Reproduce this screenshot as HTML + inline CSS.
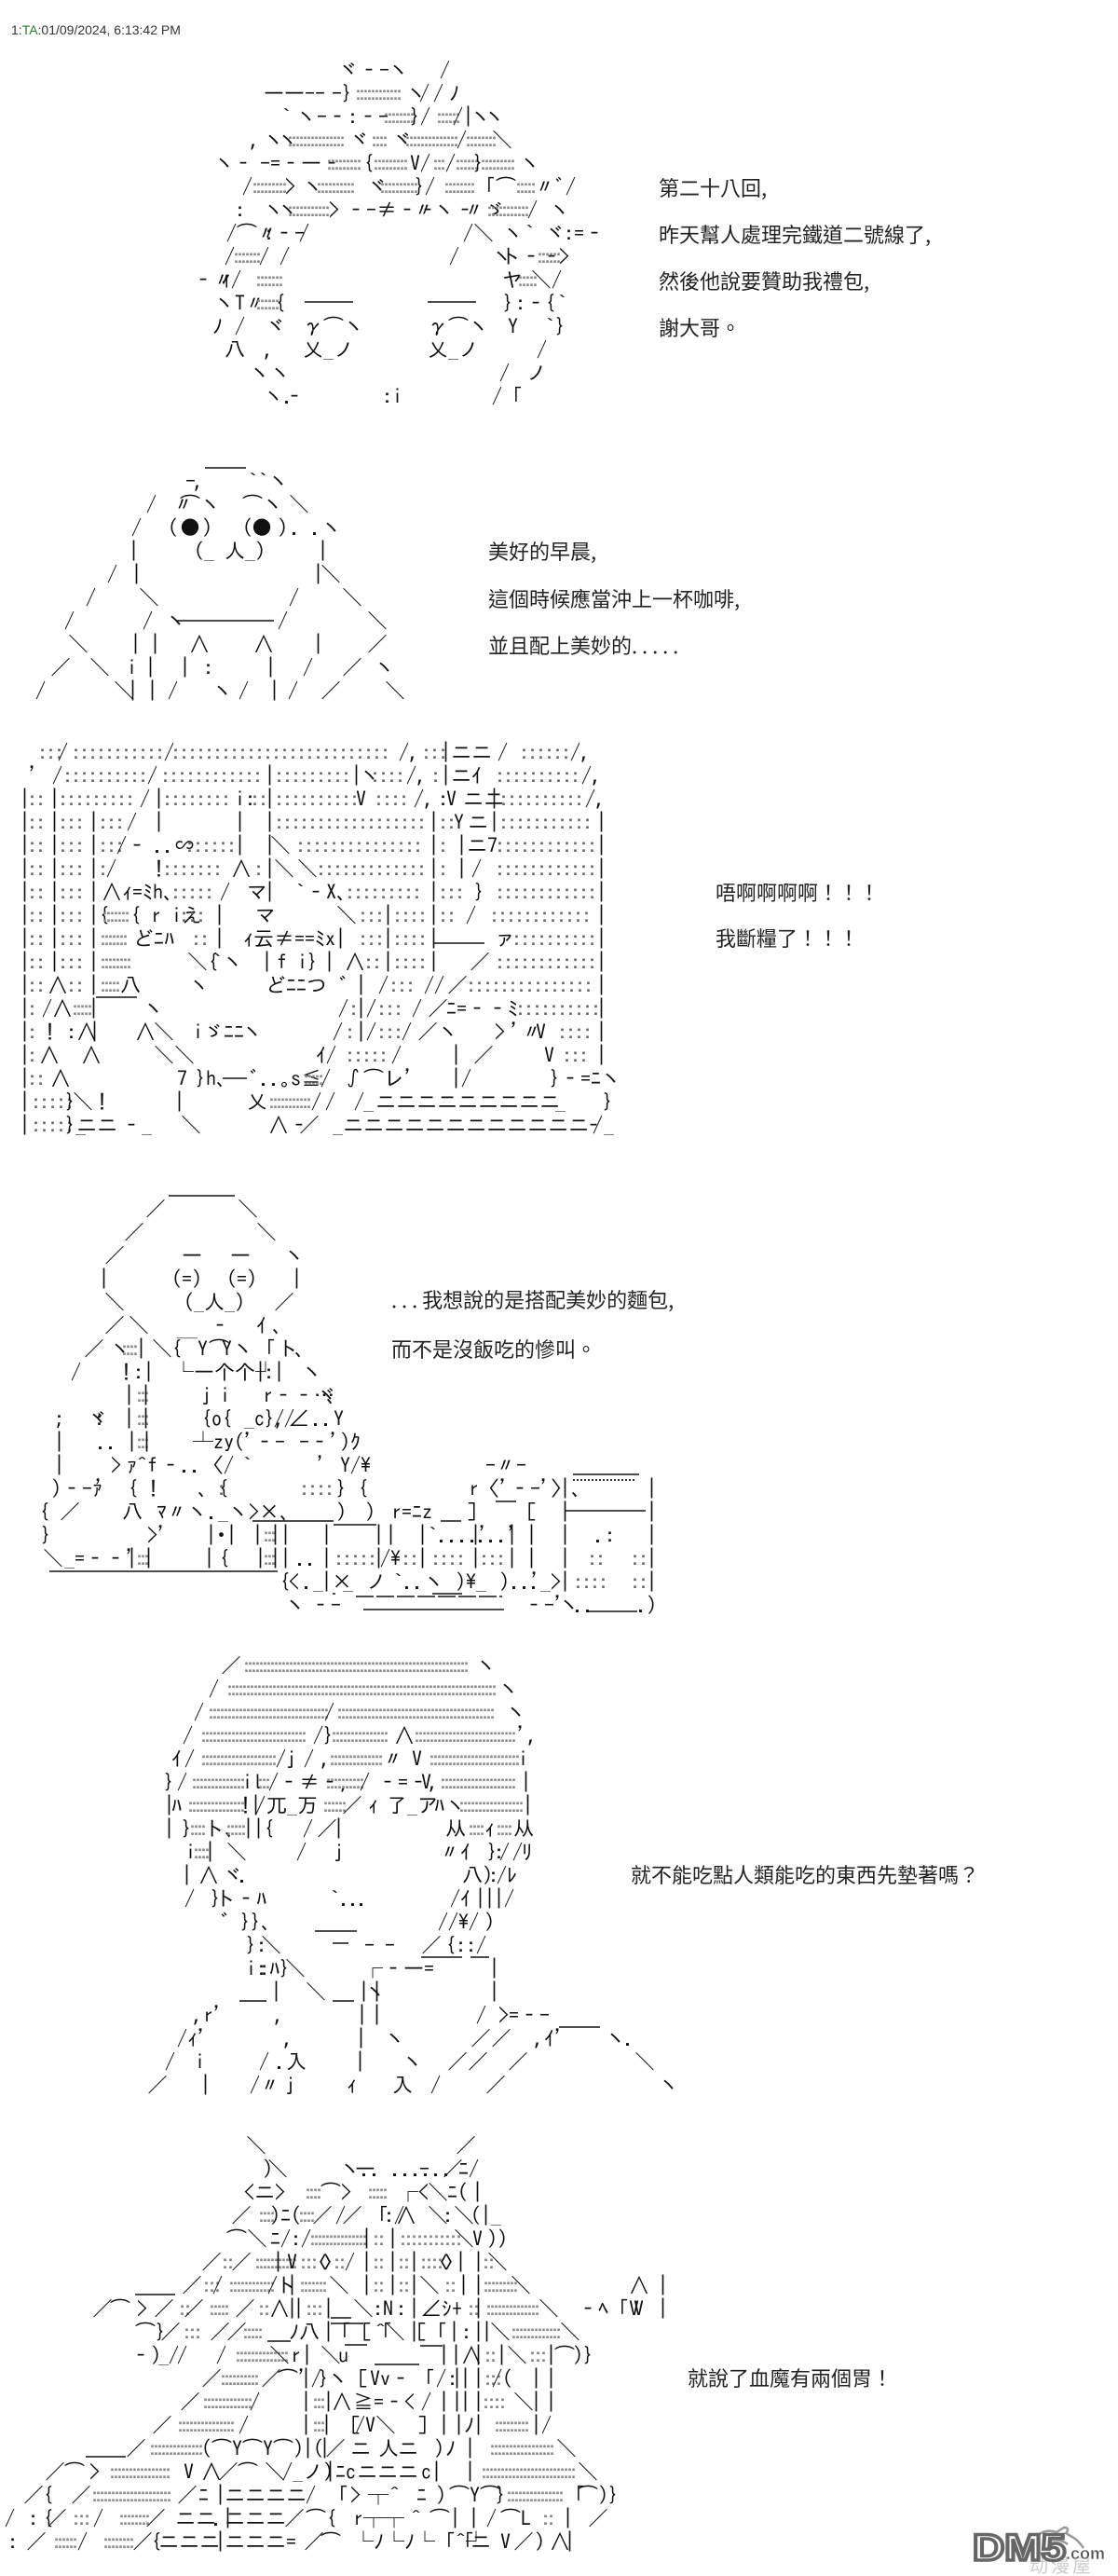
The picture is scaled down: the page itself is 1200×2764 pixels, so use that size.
<!DOCTYPE html>
<html><head><meta charset="utf-8"><style>
html,body{margin:0;padding:0;background:#fff}
svg{display:block}
text{font-family:"IPAGothic","Noto Sans CJK JP",sans-serif;font-size:22px;fill:#111;white-space:pre}
.a{letter-spacing:-7px;fill:#8a8a8a}
.b{letter-spacing:-5px;fill:#808080}
.c{letter-spacing:-2px;fill:#666}
.t{font-family:"WenQuanYi Zen Hei","Noto Sans CJK TC",sans-serif;fill:#222}
.h{font-family:"Liberation Sans",sans-serif;font-size:14px;fill:#333}
</style></head><body>
<svg width="1200" height="2764" viewBox="0 0 1200 2764" xmlns="http://www.w3.org/2000/svg">
<text class="h" x="12" y="37">1:<tspan fill="#2a7a2a">TA</tspan>:01/09/2024, 6:13:42 PM</text>

<!-- AA1 -->
<text y="83"><tspan x="363">ヾ‐-</tspan><tspan x="417">ヽ</tspan><tspan x="472">/</tspan></text>
<text y="108"><tspan x="283">――--</tspan><tspan x="356">-}</tspan><tspan x="379" class="a">::::::::::::</tspan><tspan x="436">ヽ</tspan><tspan x="450">/</tspan><tspan x="465">/</tspan><tspan x="482">ﾉ</tspan></text>
<text y="133"><tspan x="302">`</tspan><tspan x="318">ヽ-‐:‐-</tspan><tspan x="409" class="a">::::::::</tspan><tspan x="440">}/</tspan><tspan x="466" class="a">::::::</tspan><tspan x="486">/|</tspan><tspan x="505">ヽ</tspan><tspan x="520">ヽ</tspan></text>
<text y="158"><tspan x="268">,</tspan><tspan x="283">ヽ</tspan><tspan x="298">ヽ</tspan><tspan x="306" class="a">:::::::::::::::</tspan><tspan x="375">ヾ</tspan><tspan x="396" class="a">::::</tspan><tspan x="421">ヾ</tspan><tspan x="432" class="a">::::::::::::::</tspan><tspan x="490">/</tspan><tspan x="497" class="a">::::::::</tspan><tspan x="528">＼</tspan></text>
<text y="183"><tspan x="230">ヽ</tspan><tspan x="250">‐</tspan><tspan x="279">-=‐―‐</tspan><tspan x="348" class="a">:::::::::</tspan><tspan x="390">{</tspan><tspan x="398" class="a">:::::::::</tspan><tspan x="440">V/</tspan><tspan x="462" class="a">:::</tspan><tspan x="478">/</tspan><tspan x="486" class="a">::::::</tspan><tspan x="508">}</tspan><tspan x="513" class="a">:::::::::</tspan><tspan x="558">ヽ</tspan></text>
<text y="208"><tspan x="260">/</tspan><tspan x="268" class="a">:::::::::</tspan><tspan x="306">&gt;</tspan><tspan x="325">ヽ</tspan><tspan x="337" class="a">::::::::::</tspan><tspan x="394">ヾ</tspan><tspan x="405" class="a">::::::::::</tspan><tspan x="445">}/</tspan><tspan x="474" class="a">::::::::</tspan><tspan x="510">「⌒</tspan><tspan x="551" class="a">:::::</tspan><tspan x="574">〃ﾞ/</tspan></text>
<text y="233"><tspan x="252">:</tspan><tspan x="283">ヽ</tspan><tspan x="298">ヽ</tspan><tspan x="306" class="a">:::::::::::</tspan><tspan x="353">&gt;</tspan><tspan x="371">‐-≠‐‐</tspan><tspan x="444">〃ヽ‐</tspan><tspan x="498">〃ゞ</tspan><tspan x="520" class="a">:::::::::::</tspan><tspan x="566">/</tspan><tspan x="590">ヽ</tspan></text>
<text y="258"><tspan x="243">/⌒〃</tspan><tspan x="283">:‐-</tspan><tspan x="321">/</tspan><tspan x="497">/＼</tspan><tspan x="540">ヽ</tspan><tspan x="563">`</tspan><tspan x="585">ヾ</tspan><tspan x="605">:</tspan><tspan x="616">=‐</tspan></text>
<text y="283"><tspan x="241">/</tspan><tspan x="248" class="a">:::::::</tspan><tspan x="278">/</tspan><tspan x="300">/</tspan><tspan x="482">/</tspan><tspan x="528">ヽ</tspan><tspan x="537">ト‐‐</tspan><tspan x="574" class="a">::::::</tspan><tspan x="600">&gt;</tspan></text>
<text y="308"><tspan x="207">‐〃</tspan><tspan x="237">ｨ/</tspan><tspan x="272" class="a">:::::::</tspan><tspan x="539">ヤ</tspan><tspan x="553" class="a">:::::</tspan><tspan x="570">＼/</tspan></text>
<text y="333"><tspan x="230">ヽT〃</tspan><tspan x="272" class="a">::::::</tspan><tspan x="295">{</tspan><tspan x="540">}</tspan><tspan x="553">:‐</tspan><tspan x="585">{</tspan><tspan x="598">`</tspan></text>
<text y="358"><tspan x="228">ﾉ</tspan><tspan x="252">/</tspan><tspan x="285">ヾ</tspan><tspan x="325">γ⌒ヽ</tspan><tspan x="459">γ⌒ヽ</tspan><tspan x="545">Y</tspan><tspan x="585">`}</tspan></text>
<text y="383"><tspan x="241">八</tspan><tspan x="283">,</tspan><tspan x="325">乂_ノ</tspan><tspan x="459">乂_ノ</tspan><tspan x="576">/</tspan></text>
<text y="408"><tspan x="268">ヽ</tspan><tspan x="290">ヽ</tspan><tspan x="536">/</tspan><tspan x="565">ノ</tspan></text>
<text y="433"><tspan x="283">ヽ‐</tspan><tspan x="304">.</tspan><tspan x="410">:i</tspan><tspan x="528">/「</tspan></text>
<path d="M327 324h52M459 324h52" stroke="#111" stroke-width="1.5"/>
<text class="t" x="707" y="210">第二十八回,</text>
<text class="t" x="707" y="260">昨天幫人處理完鐵道二號線了,</text>
<text class="t" x="707" y="310">然後他說要贊助我禮包,</text>
<text class="t" x="707" y="360">謝大哥。</text>

<!-- AA2 -->
<text y="524"><tspan x="199">-</tspan><tspan x="208">,</tspan><tspan x="266">``</tspan><tspan x="288">ヽ</tspan></text>
<text y="549"><tspan x="157">/</tspan><tspan x="186">〃</tspan><tspan x="193">⌒ヽ</tspan><tspan x="260">⌒ヽ</tspan><tspan x="310">＼</tspan></text>
<text y="574"><tspan x="141">/</tspan><tspan x="180">(</tspan><tspan x="193">●</tspan><tspan x="217">)</tspan><tspan x="260">(</tspan><tspan x="270">●</tspan><tspan x="298">)</tspan><tspan x="312">. .ヽ</tspan></text>
<text y="599"><tspan x="138">|</tspan><tspan x="208">(_ 人_)</tspan><tspan x="341">|</tspan></text>
<text y="624"><tspan x="115">/</tspan><tspan x="141">|</tspan><tspan x="336">|</tspan><tspan x="344">＼</tspan></text>
<text y="649"><tspan x="92">/</tspan><tspan x="149">＼</tspan><tspan x="310">/</tspan><tspan x="367">＼</tspan></text>
<text y="674"><tspan x="69">/</tspan><tspan x="153">/</tspan><tspan x="178">ヽ</tspan><tspan x="298">/</tspan><tspan x="394">＼</tspan></text>
<text y="699"><tspan x="73">＼</tspan><tspan x="140">|</tspan><tspan x="161">|</tspan><tspan x="203">∧</tspan><tspan x="272">∧</tspan><tspan x="336">|</tspan><tspan x="394">／</tspan></text>
<text y="724"><tspan x="54">／</tspan><tspan x="96">＼</tspan><tspan x="136">i</tspan><tspan x="156">|</tspan><tspan x="193">|</tspan><tspan x="218">:</tspan><tspan x="285">|</tspan><tspan x="325">/</tspan><tspan x="367">／</tspan><tspan x="402">ヽ</tspan></text>
<text y="749"><tspan x="38">/</tspan><tspan x="122">＼</tspan><tspan x="137">|</tspan><tspan x="158">|</tspan><tspan x="180">/</tspan><tspan x="228">ヽ</tspan><tspan x="256">/</tspan><tspan x="289">|</tspan><tspan x="309">/</tspan><tspan x="344">／</tspan><tspan x="413">＼</tspan></text>
<path d="M220 502h44M190 666h104" stroke="#111" stroke-width="1.6"/>
<text class="t" x="524" y="600">美好的早晨,</text>
<text class="t" x="524" y="651">這個時候應當沖上一杯咖啡,</text>
<text class="t" x="524" y="701">並且配上美妙的. . . . .</text>

<!-- AA3 -->
<text y="815"><tspan x="40" class="c">:::</tspan><tspan x="62">/</tspan><tspan x="76" class="c">:::::::::::</tspan><tspan x="176">/</tspan><tspan x="183" class="c">::::::::::::::::::::::::::</tspan><tspan x="428">/,</tspan><tspan x="452" class="c">:::</tspan><tspan x="473">|</tspan><tspan x="484">ニニ</tspan><tspan x="534" >/</tspan><tspan x="557" class="c">::::::</tspan><tspan x="612">/,</tspan></text>
<text y="840"><tspan x="31">'</tspan><tspan x="56">/</tspan><tspan x="67" class="c">::::::::::</tspan><tspan x="158">/</tspan><tspan x="172" class="c">::::::::::::</tspan><tspan x="284">|</tspan><tspan x="294" class="c">:::::::::</tspan><tspan x="377">|</tspan><tspan x="386">ヽ</tspan><tspan x="397" class="c">::::</tspan><tspan x="436">/,</tspan><tspan x="462" class="c">:</tspan><tspan x="473">|</tspan><tspan x="484">ニｲ</tspan><tspan x="531" class="c">::::::::::</tspan><tspan x="624">/,</tspan></text>
<text y="865"><tspan x="21">|</tspan><tspan x="29" class="c">::</tspan><tspan x="53">|</tspan><tspan x="62" class="c">:::::::::</tspan><tspan x="150">/</tspan><tspan x="165">|</tspan><tspan x="174" class="c">::::::::</tspan><tspan x="252">i:</tspan><tspan x="268" class="c">::</tspan><tspan x="284">|</tspan><tspan x="294" class="c">::::::::::</tspan><tspan x="382">V</tspan><tspan x="401" class="c">::::</tspan><tspan x="444">/,</tspan><tspan x="470">:</tspan><tspan x="479">V</tspan><tspan x="497">ニニ</tspan><tspan x="525">|</tspan><tspan x="535" class="c">::::::::::</tspan><tspan x="628">/,</tspan></text>
<text y="890"><tspan x="21">|</tspan><tspan x="29" class="c">::</tspan><tspan x="53">|</tspan><tspan x="62" class="c">:::</tspan><tspan x="95">|</tspan><tspan x="105" class="c">:::</tspan><tspan x="136">/</tspan><tspan x="165">|</tspan><tspan x="252">|</tspan><tspan x="284">|</tspan><tspan x="294" class="c">::::::::::::::::::</tspan><tspan x="460">|</tspan><tspan x="470" class="c">::</tspan><tspan x="487">Y</tspan><tspan x="502">ニ</tspan><tspan x="525">|</tspan><tspan x="535" class="c">:::::::::::</tspan><tspan x="640">|</tspan></text>
<text y="915"><tspan x="21">|</tspan><tspan x="29" class="c">::</tspan><tspan x="53">|</tspan><tspan x="62" class="c">:::</tspan><tspan x="95">|</tspan><tspan x="105" class="c">:::</tspan><tspan x="125">/‐</tspan><tspan x="165">..∽</tspan><tspan x="198" class="c">::::::</tspan><tspan x="252">|</tspan><tspan x="284">|</tspan><tspan x="290">＼</tspan><tspan x="317" class="c">:::::::::::::::</tspan><tspan x="460">|</tspan><tspan x="470" class="c">:</tspan><tspan x="490">|ニ7</tspan><tspan x="531" class="c">::::::::::::</tspan><tspan x="640">|</tspan></text>
<text y="940"><tspan x="21">|</tspan><tspan x="29" class="c">::</tspan><tspan x="53">|</tspan><tspan x="62" class="c">:::</tspan><tspan x="95">|</tspan><tspan x="105" class="c">:</tspan><tspan x="114">/</tspan><tspan x="165">!</tspan><tspan x="174" class="c">:::::::</tspan><tspan x="248">∧</tspan><tspan x="272" class="c">:</tspan><tspan x="284">|</tspan><tspan x="294">＼</tspan><tspan x="319">＼</tspan><tspan x="339" class="c">:::::::::::::</tspan><tspan x="460">|</tspan><tspan x="470" class="c">:</tspan><tspan x="490">|</tspan><tspan x="506">/</tspan><tspan x="531" class="c">::::::::::::</tspan><tspan x="640">|</tspan></text>
<text y="965"><tspan x="21">|</tspan><tspan x="29" class="c">::</tspan><tspan x="53">|</tspan><tspan x="62" class="c">:::</tspan><tspan x="95">|</tspan><tspan x="109">∧ｨ=ﾐh、</tspan><tspan x="183" class="c">:::::</tspan><tspan x="236">/</tspan><tspan x="265">マ</tspan><tspan x="284">|</tspan><tspan x="317">`‐X、</tspan><tspan x="370" class="c">:::::::::</tspan><tspan x="460">|</tspan><tspan x="470" class="c">:::</tspan><tspan x="509">}</tspan><tspan x="531" class="c">::::::::::::</tspan><tspan x="640">|</tspan></text>
<text y="990"><tspan x="21">|</tspan><tspan x="29" class="c">::</tspan><tspan x="53">|</tspan><tspan x="62" class="c">:::</tspan><tspan x="95">|{</tspan><tspan x="107" class="a">:::::::</tspan><tspan x="140">{ r iえ</tspan><tspan x="192" class="c">:::</tspan><tspan x="230">|</tspan><tspan x="274">マ</tspan><tspan x="361">＼</tspan><tspan x="384" class="c">:::</tspan><tspan x="411">|</tspan><tspan x="421" class="c">::::</tspan><tspan x="460">|</tspan><tspan x="470" class="c">::</tspan><tspan x="500">/</tspan><tspan x="525" class="c">::::::::::::</tspan><tspan x="640">|</tspan></text>
<text y="1015"><tspan x="21">|</tspan><tspan x="29" class="c">::</tspan><tspan x="53">|</tspan><tspan x="62" class="c">:::</tspan><tspan x="95">|</tspan><tspan x="105" class="a">:::::::</tspan><tspan x="143">どﾆﾊ</tspan><tspan x="205" class="c">::</tspan><tspan x="230">|</tspan><tspan x="261">ｨ云≠==ﾐx|</tspan><tspan x="384" class="c">:::</tspan><tspan x="411">|</tspan><tspan x="421" class="c">::::</tspan><tspan x="460">|</tspan><tspan x="531">ァ</tspan><tspan x="549" class="c">::::::::::</tspan><tspan x="640">|</tspan></text>
<text y="1040"><tspan x="21">|</tspan><tspan x="29" class="c">::</tspan><tspan x="53">|</tspan><tspan x="62" class="c">:::</tspan><tspan x="95">|</tspan><tspan x="105" class="a">::::::::</tspan><tspan x="201">＼{</tspan><tspan x="228">`ヽ</tspan><tspan x="281">|</tspan><tspan x="297">f</tspan><tspan x="319">i}</tspan><tspan x="348">|</tspan><tspan x="370">∧</tspan><tspan x="390" class="c">::</tspan><tspan x="411">|</tspan><tspan x="421" class="c">::::</tspan><tspan x="460">|</tspan><tspan x="504">／</tspan><tspan x="531" class="c">::::::::::::</tspan><tspan x="640">|</tspan></text>
<text y="1065"><tspan x="21">|</tspan><tspan x="29" class="c">::</tspan><tspan x="51">∧</tspan><tspan x="71" class="c">::</tspan><tspan x="95">|</tspan><tspan x="105" class="a">:::::</tspan><tspan x="129">八</tspan><tspan x="203">ヽ</tspan><tspan x="285">どﾆﾆつ</tspan><tspan x="364">ﾞ</tspan><tspan x="382">|</tspan><tspan x="406">/</tspan><tspan x="417" class="c">:::</tspan><tspan x="455">//</tspan><tspan x="480">／</tspan><tspan x="500" class="c">:::::::::::::::</tspan><tspan x="640">|</tspan></text>
<text y="1090"><tspan x="21">|</tspan><tspan x="29" class="c">:</tspan><tspan x="45">/∧</tspan><tspan x="75" class="a">:::::</tspan><tspan x="95">|</tspan><tspan x="154">ヽ</tspan><tspan x="363">/</tspan><tspan x="374" class="c">:</tspan><tspan x="382">|</tspan><tspan x="393">/</tspan><tspan x="404" class="c">:::</tspan><tspan x="442">/</tspan><tspan x="459">／</tspan><tspan x="479">ﾆ=‐‐ﾐ</tspan><tspan x="553" class="c">::::::::::</tspan><tspan x="640">|</tspan></text>
<text y="1115"><tspan x="21">|</tspan><tspan x="29" class="c">:</tspan><tspan x="48">!</tspan><tspan x="71">:∧</tspan><tspan x="96">|</tspan><tspan x="145">∧</tspan><tspan x="165">＼</tspan><tspan x="207">iゞﾆﾆ</tspan><tspan x="260">ヽ</tspan><tspan x="357">/</tspan><tspan x="370" class="c">:</tspan><tspan x="382">|/</tspan><tspan x="404" class="c">:::</tspan><tspan x="431">/</tspan><tspan x="448">／</tspan><tspan x="470">ヽ</tspan><tspan x="531">&gt;</tspan><tspan x="548">'</tspan><tspan x="560">〃</tspan><tspan x="575">V</tspan><tspan x="598" class="c">::::</tspan><tspan x="640">|</tspan></text>
<text y="1140"><tspan x="21">|</tspan><tspan x="29" class="c">:</tspan><tspan x="42">∧</tspan><tspan x="87">∧</tspan><tspan x="165">＼</tspan><tspan x="187">＼</tspan><tspan x="339">ｲ/</tspan><tspan x="370" class="c">:::::</tspan><tspan x="420">/</tspan><tspan x="484">|</tspan><tspan x="508">／</tspan><tspan x="584">V</tspan><tspan x="603" class="c">:::</tspan><tspan x="640">|</tspan></text>
<text y="1165"><tspan x="21">|</tspan><tspan x="29" class="c">::</tspan><tspan x="54">∧</tspan><tspan x="190">7</tspan><tspan x="210">}h、</tspan><tspan x="268">ﾞ..｡s≦</tspan><tspan x="323" class="a">:::::</tspan><tspan x="344">/</tspan><tspan x="368">∫⌒レ'</tspan><tspan x="484">|/</tspan><tspan x="590">}‐=ﾆヽ</tspan></text>
<text y="1190"><tspan x="21">|</tspan><tspan x="33" class="c">:::::</tspan><tspan x="70">}</tspan><tspan x="78">＼</tspan><tspan x="104">!</tspan><tspan x="187">|</tspan><tspan x="265">乂</tspan><tspan x="286" class="a">:::::::::::</tspan><tspan x="334">/</tspan><tspan x="349">/</tspan><tspan x="380">/</tspan><tspan x="390">_</tspan><tspan x="403">ニニニニニニニニニ</tspan><tspan x="596">_</tspan><tspan x="647">}</tspan></text>
<text y="1215"><tspan x="21">|</tspan><tspan x="33" class="c">:::::</tspan><tspan x="70">}_</tspan><tspan x="82">ニニ</tspan><tspan x="130">‐_</tspan><tspan x="194">＼</tspan><tspan x="288">∧‐</tspan><tspan x="321">／</tspan><tspan x="357">_</tspan><tspan x="368">ニニニニニニニニニニニニ</tspan><tspan x="626">‐_</tspan><tspan x="636">/</tspan></text>
<path d="M466 1012h54M103 1070h44M239 1157h26" stroke="#111" stroke-width="1.6"/>
<text class="t" x="768" y="966">唔啊啊啊啊！！！</text>
<text class="t" x="768" y="1015">我斷糧了！！！</text>

<!-- AA4 -->
<text y="1305"><tspan x="156">／</tspan><tspan x="255">＼</tspan></text>
<text y="1330"><tspan x="133">／</tspan><tspan x="275">＼</tspan></text>
<text y="1355"><tspan x="112">／</tspan><tspan x="195">―</tspan><tspan x="247">―</tspan><tspan x="305">ヽ</tspan></text>
<text y="1380"><tspan x="106">|</tspan><tspan x="184">(=)</tspan><tspan x="243">(=)</tspan><tspan x="313">|</tspan></text>
<text y="1405"><tspan x="112">＼</tspan><tspan x="197">(_人_)</tspan><tspan x="294">／</tspan></text>
<text y="1430"><tspan x="112">／</tspan><tspan x="138">＼</tspan><tspan x="225">‐</tspan><tspan x="275">ｲ</tspan><tspan x="292">、</tspan></text>
<text y="1455"><tspan x="90">／</tspan><tspan x="118">ヽ</tspan><tspan x="128" class="a">::::</tspan><tspan x="146">|</tspan><tspan x="163">＼</tspan><tspan x="184">{</tspan><tspan x="190">￣</tspan><tspan x="212">Y</tspan><tspan x="224">⌒</tspan><tspan x="238">Y</tspan><tspan x="250">ヽ</tspan><tspan x="274">「</tspan><tspan x="298">ト</tspan><tspan x="316">、</tspan></text>
<text y="1480"><tspan x="76">/</tspan><tspan x="130">!</tspan><tspan x="143">:|</tspan><tspan x="186">└―个个┘</tspan><tspan x="274">|</tspan><tspan x="283">:</tspan><tspan x="294">|</tspan><tspan x="324">ヽ</tspan></text>
<text y="1505"><tspan x="133">|</tspan><tspan x="144" class="a">:::</tspan><tspan x="151">|</tspan><tspan x="216">j</tspan><tspan x="236">i</tspan><tspan x="282">r‐‐…</tspan><tspan x="340">ヾ</tspan><tspan x="350">、</tspan></text>
<text y="1530"><tspan x="58">;</tspan><tspan x="94">ヾ</tspan><tspan x="101">:</tspan><tspan x="133">|</tspan><tspan x="144" class="a">:::</tspan><tspan x="151">|</tspan><tspan x="216">{o{</tspan><tspan x="262">_c},</tspan><tspan x="294">//</tspan><tspan x="310">∠</tspan><tspan x="335">..</tspan><tspan x="358">Y</tspan></text>
<text y="1555"><tspan x="58">|</tspan><tspan x="104">..</tspan><tspan x="136">|</tspan><tspan x="144" class="a">:::</tspan><tspan x="152">|</tspan><tspan x="207">┴</tspan><tspan x="229">zy('‐-</tspan><tspan x="321">-‐')ｸ</tspan></text>
<text y="1580"><tspan x="58">|</tspan><tspan x="119">&gt;</tspan><tspan x="136">ｧ^f</tspan><tspan x="172">‐..</tspan><tspan x="218">〈/</tspan><tspan x="260">`</tspan><tspan x="340">'</tspan><tspan x="365">Y/\</tspan><tspan x="521">-〃-</tspan></text>
<text y="1605"><tspan x="55">)‐-ｧ</tspan><tspan x="102">'</tspan><tspan x="137">{</tspan><tspan x="159">!</tspan><tspan x="212">、{</tspan><tspan x="232" class="c">:</tspan><tspan x="321" class="c">::::</tspan><tspan x="361">}</tspan><tspan x="384">{</tspan><tspan x="503">r〈'‐-'〉、</tspan><tspan x="601">|</tspan><tspan x="694">|</tspan></text>
<text y="1630"><tspan x="42">{</tspan><tspan x="64">／</tspan><tspan x="131">八</tspan><tspan x="168">ﾏ〃ヽ._ヽ&gt;×、</tspan><tspan x="361">)</tspan><tspan x="392">)</tspan><tspan x="420">r=ﾆz</tspan><tspan x="501">]</tspan><tspan x="565">[</tspan><tspan x="601">|</tspan><tspan x="694">|</tspan></text>
<text y="1655"><tspan x="44">}</tspan><tspan x="158">&gt;'</tspan><tspan x="221">|•|</tspan><tspan x="271">|</tspan><tspan x="280" class="a">:::</tspan><tspan x="290">|</tspan><tspan x="301">|</tspan><tspan x="345">|</tspan><tspan x="401">|</tspan><tspan x="414">|</tspan><tspan x="448">|</tspan><tspan x="459">`....'</tspan><tspan x="505">|</tspan><tspan x="512">...'</tspan><tspan x="544">|</tspan><tspan x="565">|</tspan><tspan x="601">|</tspan><tspan x="638">.:</tspan><tspan x="694">|</tspan></text>
<text y="1680"><tspan x="46">＼</tspan><tspan x="69">_=‐‐'</tspan><tspan x="136">|</tspan><tspan x="144" class="a">:::</tspan><tspan x="154">|</tspan><tspan x="219">|</tspan><tspan x="235">{</tspan><tspan x="274">|</tspan><tspan x="280" class="a">:::</tspan><tspan x="290">|</tspan><tspan x="301">|</tspan><tspan x="318">..</tspan><tspan x="345">|</tspan><tspan x="358" class="c">:::::</tspan><tspan x="401">|</tspan><tspan x="408">/\</tspan><tspan x="430" class="c">::</tspan><tspan x="448">|</tspan><tspan x="462" class="c">::::</tspan><tspan x="505">|</tspan><tspan x="514" class="c">:::</tspan><tspan x="544">|</tspan><tspan x="565">|</tspan><tspan x="601">|</tspan><tspan x="630" class="c">::</tspan><tspan x="676" class="c">::</tspan><tspan x="694">|</tspan></text>
<text y="1705"><tspan x="300">{</tspan><tspan x="310">&lt;</tspan><tspan x="325">._</tspan><tspan x="345">|×</tspan><tspan x="368">_</tspan><tspan x="393">ノ</tspan><tspan x="422">`..ヽ</tspan><tspan x="489">)\_</tspan><tspan x="536">)</tspan><tspan x="548">..'</tspan><tspan x="569">._&gt;</tspan><tspan x="601">|</tspan><tspan x="615" class="c">::::</tspan><tspan x="676" class="c">::</tspan><tspan x="694">|</tspan></text>
<text y="1730"><tspan x="306">ヽ</tspan><tspan x="333">‐-</tspan><tspan x="562">‐-'</tspan><tspan x="600">ヽ</tspan><tspan x="616">..</tspan><tspan x="684">.</tspan><tspan x="694">)</tspan></text>
<path d="M181 1283h71M271 1632h87M473 1632h22M358 1636h46M532 1611h22M53 1686h245M615 1582h71M606 1621h87M357 1710h3M464 1710h32M379 1713h160M390 1727h151M630 1729h54" stroke="#111" stroke-width="1.6" fill="none"/>
<path d="M379 1713h160" stroke="#fff" stroke-width="3" stroke-dasharray="3 19"/>
<path d="M615 1588h67" stroke="#333" stroke-width="2" stroke-dasharray="2 2"/>
<text class="t" x="420" y="1403">. . . 我想說的是搭配美妙的麵包,</text>
<text class="t" x="420" y="1456">而不是沒飯吃的慘叫。</text>

<!-- AA5 -->
<text y="1795"><tspan x="237">／</tspan><tspan x="259" class="a">::::::::::::::::::::::::::::::::::::::::::::::::::::::::::::</tspan><tspan x="511">ヽ</tspan></text>
<text y="1820"><tspan x="224">/</tspan><tspan x="241" class="a">::::::::::::::::::::::::::::::::::::::::::::::::::::::::::::::::::::::::</tspan><tspan x="535">ヽ</tspan></text>
<text y="1845"><tspan x="208">/</tspan><tspan x="221" class="a">::::::::::::::::::::::::::::::::</tspan><tspan x="348">/</tspan><tspan x="359" class="a">::::::::::::::::::::::::::::::::::::::::::</tspan><tspan x="543">ヽ</tspan></text>
<text y="1870"><tspan x="196">/</tspan><tspan x="213" class="a">::::::::::::::::::::::::::::</tspan><tspan x="336">/}</tspan><tspan x="353" class="a">:::::::::::::::</tspan><tspan x="423">∧</tspan><tspan x="442" class="a">:::::::::::::::::::::::::::</tspan><tspan x="555">',</tspan></text>
<text y="1895"><tspan x="184">ｲ</tspan><tspan x="198">/</tspan><tspan x="213" class="a">::::::::::::::::::::</tspan><tspan x="296">/j</tspan><tspan x="326">/</tspan><tspan x="344">,</tspan><tspan x="351" class="a">::::::::::::::</tspan><tspan x="411">〃</tspan><tspan x="442">V</tspan><tspan x="458" class="a">::::::::::::::::::::::::</tspan><tspan x="556">i</tspan></text>
<text y="1920"><tspan x="176">}</tspan><tspan x="190">/</tspan><tspan x="203" class="a">::::::::::::::</tspan><tspan x="260">il</tspan><tspan x="274" class="a">:::</tspan><tspan x="288">/‐≠‐,</tspan><tspan x="347" class="a">::::::::::</tspan><tspan x="386">/</tspan><tspan x="405">‐=‐,</tspan><tspan x="452">V</tspan><tspan x="470" class="a">::::::::::::::::::::</tspan><tspan x="559">|</tspan></text>
<text y="1945"><tspan x="176">|</tspan><tspan x="184">ﾊ</tspan><tspan x="199" class="a">:::::::::::::::</tspan><tspan x="258">!|</tspan><tspan x="274">/</tspan><tspan x="286">兀_万</tspan><tspan x="344" class="a">::::::</tspan><tspan x="367">／</tspan><tspan x="395">ｨ</tspan><tspan x="415">了_ア</tspan><tspan x="466">ﾊ</tspan><tspan x="478">ヽ</tspan><tspan x="490" class="a">:::::::::::::::::</tspan><tspan x="561">|</tspan></text>
<text y="1970"><tspan x="176">|</tspan><tspan x="195">}</tspan><tspan x="201" class="a">::::</tspan><tspan x="219">ト、</tspan><tspan x="240" class="a">:::::</tspan><tspan x="261">||{</tspan><tspan x="325">/</tspan><tspan x="340">／</tspan><tspan x="358">|</tspan><tspan x="478">从</tspan><tspan x="500" class="a">::::</tspan><tspan x="520">ｨ</tspan><tspan x="530" class="a">::::</tspan><tspan x="551">从</tspan></text>
<text y="1995"><tspan x="199">i</tspan><tspan x="205" class="a">::::</tspan><tspan x="220">|</tspan><tspan x="243">＼</tspan><tspan x="318">/</tspan><tspan x="358">j</tspan><tspan x="472">〃ｲ</tspan><tspan x="523">}</tspan><tspan x="530">:</tspan><tspan x="536">/</tspan><tspan x="550">/</tspan><tspan x="560">ﾘ</tspan></text>
<text y="2020"><tspan x="195">|</tspan><tspan x="213">∧</tspan><tspan x="239">ヾ</tspan><tspan x="256">.</tspan><tspan x="496">八)</tspan><tspan x="524">:</tspan><tspan x="533">/ﾚ</tspan></text>
<text y="2045"><tspan x="198">/</tspan><tspan x="226">}</tspan><tspan x="231">ト‐ﾊ</tspan><tspan x="354">`.</tspan><tspan x="375">.</tspan><tspan x="384">.</tspan><tspan x="483">/ｲ</tspan><tspan x="510">|</tspan><tspan x="520">|</tspan><tspan x="530">|/</tspan></text>
<text y="2070"><tspan x="237">ﾞ</tspan><tspan x="258">}}、</tspan><tspan x="470">//\/</tspan><tspan x="520">)</tspan></text>
<text y="2095"><tspan x="264">}:</tspan><tspan x="280">＼</tspan><tspan x="391">- -</tspan><tspan x="452">／</tspan><tspan x="478">{::/</tspan></text>
<text y="2120"><tspan x="264">i:</tspan><tspan x="278">:ﾊ}</tspan><tspan x="306">＼</tspan><tspan x="389">┌‐―=</tspan><tspan x="525">|</tspan></text>
<text y="2145"><tspan x="291">|</tspan><tspan x="328">＼</tspan><tspan x="385">|</tspan><tspan x="392">ヽ</tspan><tspan x="399">|</tspan><tspan x="525">|</tspan></text>
<text y="2170"><tspan x="207">,r'</tspan><tspan x="294">,</tspan><tspan x="383">|</tspan><tspan x="399">|</tspan><tspan x="511">/</tspan><tspan x="535">&gt;=‐-</tspan></text>
<text y="2195"><tspan x="190">/ｨ'</tspan><tspan x="304">,</tspan><tspan x="382">|</tspan><tspan x="413">ヽ</tspan><tspan x="505">／</tspan><tspan x="527">／</tspan><tspan x="573">,ｲ'</tspan><tspan x="650">ヽ</tspan><tspan x="670">.</tspan></text>
<text y="2220"><tspan x="177">/</tspan><tspan x="209">i</tspan><tspan x="278">/</tspan><tspan x="296">.入</tspan><tspan x="381">|</tspan><tspan x="432">ヽ</tspan><tspan x="480">／</tspan><tspan x="502">／</tspan><tspan x="545">／</tspan><tspan x="681">＼</tspan></text>
<text y="2245"><tspan x="158">／</tspan><tspan x="215">|</tspan><tspan x="268">/〃</tspan><tspan x="306">j</tspan><tspan x="372">ｨ</tspan><tspan x="421">入</tspan><tspan x="462">/</tspan><tspan x="521">／</tspan><tspan x="707">ヽ</tspan></text>
<path d="M338 2072h45M357 2085h17M452 2100h44M505 2100h20M257 2147h29M357 2147h23M600 2175h44" stroke="#111" stroke-width="1.6"/>
<text class="t" x="677" y="2020">就不能吃點人類能吃的東西先墊著嗎？</text>

<!-- AA6 -->
<text y="2310"><tspan x="264">＼</tspan><tspan x="489">／</tspan></text>
<text y="2335"><tspan x="282">)</tspan><tspan x="287">＼</tspan><tspan x="365">ヽ..</tspan><tspan x="381">―</tspan><tspan x="420">......</tspan><tspan x="450">-</tspan><tspan x="475">／</tspan><tspan x="492">ﾆ/</tspan></text>
<text y="2360"><tspan x="262">&lt;ニ&gt;</tspan><tspan x="325" class="a">::::</tspan><tspan x="344">⌒&gt;</tspan><tspan x="392" class="a">:::::</tspan><tspan x="427">┌&lt;</tspan><tspan x="459">＼</tspan><tspan x="480">ﾆ(</tspan><tspan x="507">|</tspan></text>
<text y="2385"><tspan x="248">／</tspan><tspan x="275" class="a">::::</tspan><tspan x="290">)ﾆ(</tspan><tspan x="318" class="a">::::</tspan><tspan x="335">／</tspan><tspan x="360">/</tspan><tspan x="367">／</tspan><tspan x="395">「</tspan><tspan x="412">:/</tspan><tspan x="425">∧</tspan><tspan x="459">＼</tspan><tspan x="475">:</tspan><tspan x="487">＼</tspan><tspan x="505">(|_</tspan></text>
<text y="2410"><tspan x="243">⌒＼</tspan><tspan x="290">ﾆ/</tspan><tspan x="312">:/</tspan><tspan x="330" class="a">:::::::::::::::</tspan><tspan x="388">|</tspan><tspan x="398" class="b">::</tspan><tspan x="416">|</tspan><tspan x="427" class="b">:::::::::::</tspan><tspan x="487">＼</tspan><tspan x="507">V</tspan><tspan x="523">))</tspan></text>
<text y="2435"><tspan x="216">／</tspan><tspan x="236" class="b">::</tspan><tspan x="248">／</tspan><tspan x="271" class="a">:::::::::::</tspan><tspan x="293">|</tspan><tspan x="308">V</tspan><tspan x="320" class="b">:::</tspan><tspan x="338">◊</tspan><tspan x="356" class="b">::</tspan><tspan x="370">/</tspan><tspan x="388">|</tspan><tspan x="398" class="b">::</tspan><tspan x="416">|</tspan><tspan x="425" class="b">::</tspan><tspan x="439">|</tspan><tspan x="449" class="b">::::</tspan><tspan x="468">◊</tspan><tspan x="489">|</tspan><tspan x="508">|</tspan><tspan x="516" class="b">::</tspan><tspan x="523">＼</tspan></text>
<text y="2460"><tspan x="195">／</tspan><tspan x="216" class="b">:::</tspan><tspan x="228">/</tspan><tspan x="243" class="a">::::::::::::</tspan><tspan x="287">/</tspan><tspan x="296">ト</tspan><tspan x="308">|</tspan><tspan x="319" class="a">:::::::</tspan><tspan x="353">＼</tspan><tspan x="388">|</tspan><tspan x="398" class="b">::</tspan><tspan x="416">|</tspan><tspan x="425" class="b">::</tspan><tspan x="439">|</tspan><tspan x="450">＼</tspan><tspan x="475" class="b">::</tspan><tspan x="492">|</tspan><tspan x="508">|</tspan><tspan x="516" class="a">:::::::::</tspan><tspan x="548">＼</tspan><tspan x="675">∧</tspan><tspan x="706">|</tspan></text>
<text y="2485"><tspan x="99">／</tspan><tspan x="118">⌒</tspan><tspan x="147">&gt;</tspan><tspan x="165">／</tspan><tspan x="190" class="b">::</tspan><tspan x="197">／</tspan><tspan x="222" class="a">:::::</tspan><tspan x="252">／</tspan><tspan x="275" class="b">::</tspan><tspan x="289">∧</tspan><tspan x="308">|</tspan><tspan x="315">|</tspan><tspan x="326" class="b">:::</tspan><tspan x="347">|</tspan><tspan x="379">＼</tspan><tspan x="400">:N</tspan><tspan x="425">:</tspan><tspan x="439">|</tspan><tspan x="452">∠ｼ+</tspan><tspan x="500" class="b">::</tspan><tspan x="508">|</tspan><tspan x="519" class="a">::::::::::::::</tspan><tspan x="578">＼</tspan><tspan x="620">‐ﾍ「V</tspan><tspan x="680">V</tspan><tspan x="706">|</tspan></text>
<text y="2510"><tspan x="145">⌒}</tspan><tspan x="172">／</tspan><tspan x="195" class="b">:::</tspan><tspan x="225">／</tspan><tspan x="243">／</tspan><tspan x="258" class="a">:::::</tspan><tspan x="310">ﾉ八</tspan><tspan x="347">|</tspan><tspan x="355">「</tspan><tspan x="388">[「</tspan><tspan x="403">^</tspan><tspan x="413">＼</tspan><tspan x="439">|</tspan><tspan x="447">[「</tspan><tspan x="482">|</tspan><tspan x="495">:</tspan><tspan x="508">|</tspan><tspan x="517">|</tspan><tspan x="526">＼</tspan><tspan x="546" class="a">:::::::::::::</tspan><tspan x="601">＼</tspan></text>
<text y="2535"><tspan x="140">‐)</tspan><tspan x="170">_/</tspan><tspan x="190">/</tspan><tspan x="232">/</tspan><tspan x="250" class="a">::::::::::::::</tspan><tspan x="289">＼</tspan><tspan x="312">r</tspan><tspan x="324">|</tspan><tspan x="344">＼</tspan><tspan x="363">u</tspan><tspan x="471">|</tspan><tspan x="484">|∧</tspan><tspan x="508">|</tspan><tspan x="518" class="b">::</tspan><tspan x="533">|</tspan><tspan x="544">＼</tspan><tspan x="566" class="b">:::</tspan><tspan x="586">|</tspan><tspan x="595">⌒</tspan><tspan x="615">)}</tspan></text>
<text y="2560"><tspan x="216">／</tspan><tspan x="234" class="a">::::::::::</tspan><tspan x="280">／</tspan><tspan x="298">⌒'</tspan><tspan x="323">|</tspan><tspan x="334">/</tspan><tspan x="342">}</tspan><tspan x="352">ヽ</tspan><tspan x="384">[</tspan><tspan x="397">Vv‐</tspan><tspan x="445">「</tspan><tspan x="468">/</tspan><tspan x="480">:</tspan><tspan x="485">|</tspan><tspan x="494">|</tspan><tspan x="508">|</tspan><tspan x="518" class="b">:::</tspan><tspan x="528">/(</tspan><tspan x="570">|</tspan><tspan x="586">|</tspan></text>
<text y="2585"><tspan x="193">／</tspan><tspan x="215" class="a">:::::::::::::</tspan><tspan x="268">/</tspan><tspan x="323">|</tspan><tspan x="333" class="a">:::</tspan><tspan x="347">|</tspan><tspan x="356">∧</tspan><tspan x="379">≧=‐</tspan><tspan x="434">&lt;</tspan><tspan x="452">/</tspan><tspan x="471">|</tspan><tspan x="485">|</tspan><tspan x="494">|</tspan><tspan x="508">|</tspan><tspan x="516" class="b">::::</tspan><tspan x="551">＼</tspan><tspan x="570">|</tspan><tspan x="586">|</tspan></text>
<text y="2610"><tspan x="163">／</tspan><tspan x="188" class="a">:::::::::::::::</tspan><tspan x="256">/</tspan><tspan x="323">|</tspan><tspan x="333" class="a">:::</tspan><tspan x="345">|</tspan><tspan x="376">[</tspan><tspan x="381">/V＼</tspan><tspan x="448">]</tspan><tspan x="471">|</tspan><tspan x="487">|ﾉ</tspan><tspan x="508">|</tspan><tspan x="528" class="a">:::::::::</tspan><tspan x="570">|/</tspan></text>
<text y="2635"><tspan x="135">／</tspan><tspan x="158" class="a">::::::::::::::</tspan><tspan x="216">(⌒Y⌒Y⌒)</tspan><tspan x="325">|(</tspan><tspan x="343">|</tspan><tspan x="349">／</tspan><tspan x="376">ニ</tspan><tspan x="406">人</tspan><tspan x="427">ニ</tspan><tspan x="466">)</tspan><tspan x="478">ﾉ</tspan><tspan x="499">|</tspan><tspan x="523" class="a">:::::::::::::::::</tspan><tspan x="597">＼</tspan></text>
<text y="2660"><tspan x="48">／</tspan><tspan x="69">⌒</tspan><tspan x="96">&gt;</tspan><tspan x="115" class="a">::::::::::::::::</tspan><tspan x="197">V</tspan><tspan x="216">∧</tspan><tspan x="234">／</tspan><tspan x="255">⌒</tspan><tspan x="284">＼</tspan><tspan x="303">/_ノ)</tspan><tspan x="349">|</tspan><tspan x="360">ﾆc</tspan><tspan x="383">ニニニ</tspan><tspan x="452">c|</tspan><tspan x="499">|</tspan><tspan x="514" class="a">:::::::::::::::::::::::::</tspan><tspan x="620">＼</tspan></text>
<text y="2685"><tspan x="25">／</tspan><tspan x="46">{</tspan><tspan x="76">／</tspan><tspan x="96" class="a">:::::::::::::::::::::</tspan><tspan x="190">／</tspan><tspan x="213">ﾆ</tspan><tspan x="231">|</tspan><tspan x="241">ニニニニ</tspan><tspan x="328">/</tspan><tspan x="352">「</tspan><tspan x="376">&gt;</tspan><tspan x="395">┬</tspan><tspan x="418">^</tspan><tspan x="447">ﾆ</tspan><tspan x="468">)</tspan><tspan x="482">⌒Y⌒</tspan><tspan x="532">}</tspan><tspan x="541" class="a">:::::::::::::::</tspan><tspan x="606">「</tspan><tspan x="620">⌒)}</tspan></text>
<text y="2710"><tspan x="5">/</tspan><tspan x="30">:</tspan><tspan x="46">{</tspan><tspan x="50">／</tspan><tspan x="76" class="b">:::</tspan><tspan x="100">/</tspan><tspan x="125" class="a">::::::::</tspan><tspan x="156">／</tspan><tspan x="188">ニニ</tspan><tspan x="228">.|</tspan><tspan x="241">ニニニ</tspan><tspan x="305">／</tspan><tspan x="328">⌒{</tspan><tspan x="379">r┬┬</tspan><tspan x="441">^</tspan><tspan x="461">⌒|</tspan><tspan x="503">|</tspan><tspan x="522">/</tspan><tspan x="537">⌒L</tspan><tspan x="580" class="b">::</tspan><tspan x="604">|</tspan><tspan x="631">／</tspan></text>
<text y="2735"><tspan x="8">:</tspan><tspan x="28">／</tspan><tspan x="55" class="a">::::::</tspan><tspan x="83">/</tspan><tspan x="108" class="a">::::::::</tspan><tspan x="142">／</tspan><tspan x="162">{</tspan><tspan x="170">ニニニ</tspan><tspan x="231">|</tspan><tspan x="241">ニニニ=</tspan><tspan x="326">／</tspan><tspan x="344">⌒</tspan><tspan x="379">└ﾉ└ﾉ└「^┘</tspan><tspan x="487">「</tspan><tspan x="505">ニ</tspan><tspan x="537">V</tspan><tspan x="551">／</tspan><tspan x="574">)</tspan><tspan x="590">∧</tspan><tspan x="606">|</tspan></text>
<path d="M145 2462h43M92 2636h43M355 2487h22M287 2512h25M355 2493h35M370 2516h24M402 2537h48M451 2517h24" stroke="#111" stroke-width="1.6"/>
<text class="t" x="738" y="2560">就說了血魔有兩個胃！</text>

<!-- logo -->
<path d="M1112 2722c6-6 14-8 22-5l8-5c6 0 4 4 2 6l10 6c4 3 6 6 9 10M1120 2728c8-4 18-4 26 2" fill="none" stroke="#999" stroke-width="2.5"/>
<text x="1105" y="2760" style="font-family:'Noto Sans CJK SC',sans-serif;font-size:20px;fill:#ccc;letter-spacing:3px">动漫屋</text>
<text x="1044" y="2747" style="font-family:'Liberation Sans',sans-serif;font-weight:bold;font-size:40px;fill:#fff;stroke:#666;stroke-width:3.5" textLength="100" lengthAdjust="spacingAndGlyphs">DM5</text>
<text x="1144" y="2746" style="font-family:'Liberation Sans',sans-serif;font-weight:bold;font-size:18px;fill:#555;stroke:#fff;stroke-width:.4">.com</text>
</svg>
</body></html>
